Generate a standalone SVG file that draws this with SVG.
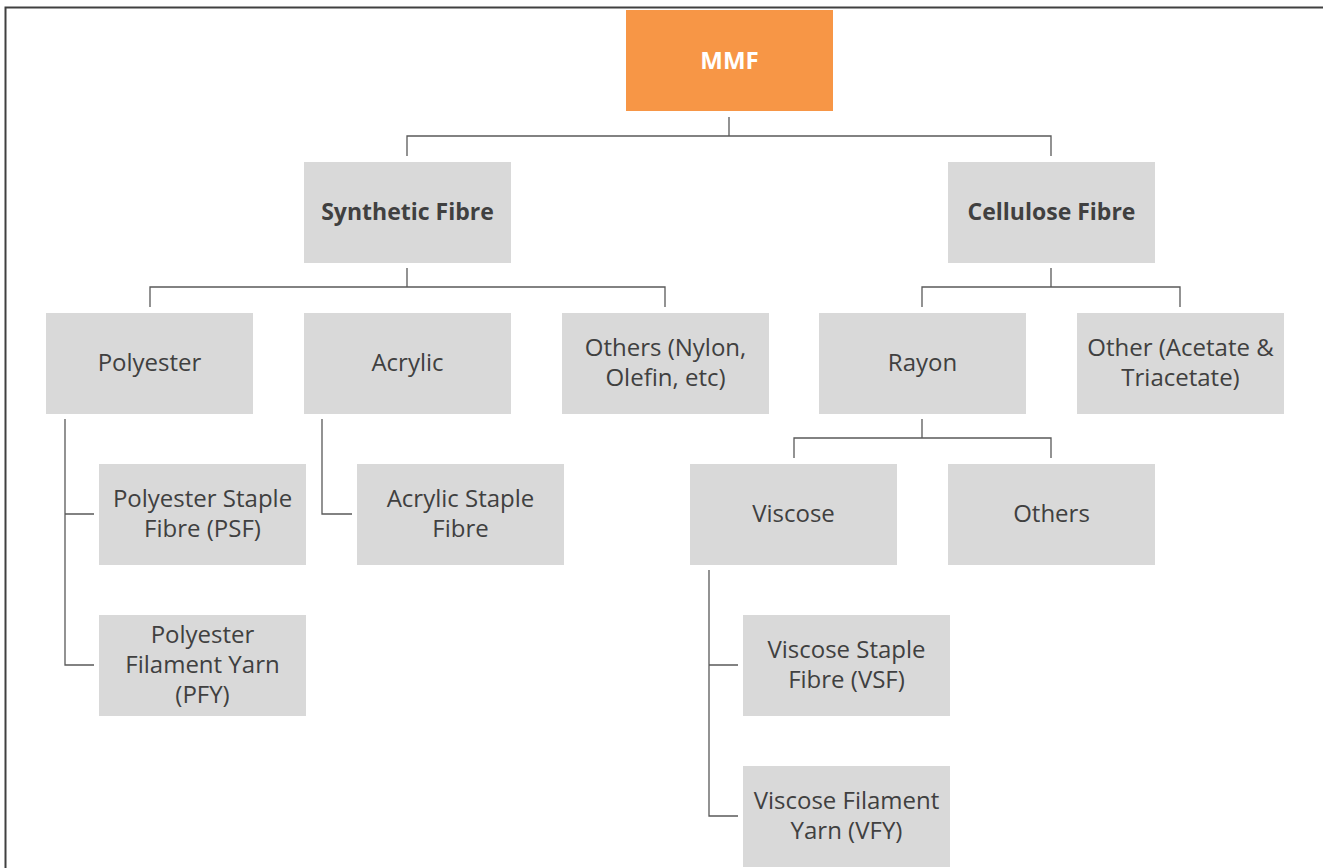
<svg xmlns="http://www.w3.org/2000/svg" width="1323" height="868" viewBox="0 0 1323 868">
<style>
.box{fill:#D9D9D9}
.root{fill:#F79646}
.t{font-family:"Open Sans","Liberation Sans",sans-serif;font-size:24px;fill:#404040;text-anchor:middle}
.b{font-weight:bold;font-size:23px}
.w{fill:#FFFFFF;font-size:24px}
.c{fill:none;stroke:#595959;stroke-width:1.3}
</style>
<rect width="1323" height="868" fill="#FFFFFF"/>
<path d="M5.5 868 V7.5 H1323" fill="none" stroke="#404040" stroke-width="2"/>
<g id="connectors">
<path class="c" d="M729 117 V136 M407 156 V136 H1051 V156"/>
<path class="c" d="M407 268 V287 M150 307 V287 H665 V307"/>
<path class="c" d="M1051 268 V287 M922 307 V287 H1180 V307"/>
<path class="c" d="M922 419 V438 M794 458 V438 H1051 V458"/>
<path class="c" d="M65 419 V665 H94 M65 514 H94"/>
<path class="c" d="M322 419 V514 H352"/>
<path class="c" d="M709 570 V816 H738 M709 665 H738"/>
</g>
<g id="mmf"><rect class="root" x="626" y="10" width="207" height="101"/><text class="t b w" x="729.5" y="69">MMF</text></g>
<g id="synthetic"><rect class="box" x="304" y="162" width="207" height="101"/><text class="t b" x="407.5" y="220">Synthetic Fibre</text></g>
<g id="cellulose"><rect class="box" x="948" y="162" width="207" height="101"/><text class="t b" x="1051.5" y="220">Cellulose Fibre</text></g>
<g id="polyester"><rect class="box" x="46" y="313" width="207" height="101"/><text class="t" x="149.5" y="371">Polyester</text></g>
<g id="acrylic"><rect class="box" x="304" y="313" width="207" height="101"/><text class="t" x="407.5" y="371">Acrylic</text></g>
<g id="others-synthetic"><rect class="box" x="562" y="313" width="207" height="101"/><text class="t" x="665.5" y="356">Others (Nylon,</text><text class="t" x="665.5" y="386">Olefin, etc)</text></g>
<g id="rayon"><rect class="box" x="819" y="313" width="207" height="101"/><text class="t" x="922.5" y="371">Rayon</text></g>
<g id="other-acetate"><rect class="box" x="1077" y="313" width="207" height="101"/><text class="t" x="1180.5" y="356">Other (Acetate &amp;</text><text class="t" x="1180.5" y="386">Triacetate)</text></g>
<g id="psf"><rect class="box" x="99" y="464" width="207" height="101"/><text class="t" x="202.5" y="507">Polyester Staple</text><text class="t" x="202.5" y="537">Fibre (PSF)</text></g>
<g id="acrylic-staple"><rect class="box" x="357" y="464" width="207" height="101"/><text class="t" x="460.5" y="507">Acrylic Staple</text><text class="t" x="460.5" y="537">Fibre</text></g>
<g id="viscose"><rect class="box" x="690" y="464" width="207" height="101"/><text class="t" x="793.5" y="522">Viscose</text></g>
<g id="others-rayon"><rect class="box" x="948" y="464" width="207" height="101"/><text class="t" x="1051.5" y="522">Others</text></g>
<g id="pfy"><rect class="box" x="99" y="615" width="207" height="101"/><text class="t" x="202.5" y="643">Polyester</text><text class="t" x="202.5" y="673">Filament Yarn</text><text class="t" x="202.5" y="703">(PFY)</text></g>
<g id="vsf"><rect class="box" x="743" y="615" width="207" height="101"/><text class="t" x="846.5" y="658">Viscose Staple</text><text class="t" x="846.5" y="688">Fibre (VSF)</text></g>
<g id="vfy"><rect class="box" x="743" y="766" width="207" height="101"/><text class="t" x="846.5" y="809">Viscose Filament</text><text class="t" x="846.5" y="839">Yarn (VFY)</text></g>
</svg>
